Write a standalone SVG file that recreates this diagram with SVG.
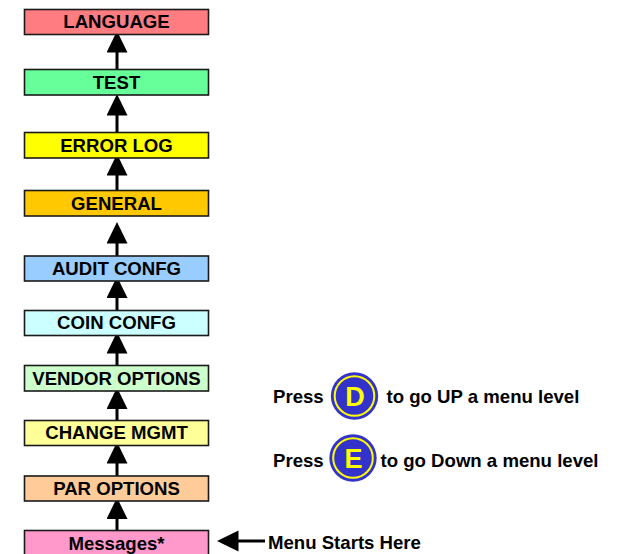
<svg xmlns="http://www.w3.org/2000/svg" width="628" height="554" viewBox="0 0 628 554">
<style>
.box{stroke:#1a1a1a;stroke-width:1.6}
.lbl{font-family:"Liberation Sans",Arial,Helvetica,sans-serif;font-weight:bold;font-size:18.6px;fill:#000;text-anchor:middle}
.txt{font-family:"Liberation Sans",Arial,Helvetica,sans-serif;font-weight:bold;font-size:18.6px;fill:#000}
.key{font-family:"Liberation Sans",Arial,Helvetica,sans-serif;font-weight:bold;font-size:27px;fill:#ffff00;text-anchor:middle}
.conn{stroke:#000;stroke-width:3;fill:none;marker-end:url(#ah)}
.btn{fill:#3333cc}
.ring{fill:none;stroke:#ffff00;stroke-width:2}
</style>
<defs>
<marker id="ah" markerUnits="userSpaceOnUse" markerWidth="22" markerHeight="22" refX="0.5" refY="10.5" orient="auto">
<path d="M0,0 L21.5,10.5 L0,21 Z" fill="#000"/>
</marker>
</defs>
<rect width="628" height="554" fill="#fff"/>
<g id="connectors">
<line class="conn" x1="117" y1="69.5" x2="117" y2="52"/>
<line class="conn" x1="117" y1="132.5" x2="117" y2="115"/>
<line class="conn" x1="117" y1="190.5" x2="117" y2="175"/>
<line class="conn" x1="117" y1="256" x2="117" y2="243"/>
<line class="conn" x1="117" y1="310.5" x2="117" y2="297.5"/>
<line class="conn" x1="117" y1="365.5" x2="117" y2="353"/>
<line class="conn" x1="117" y1="420.5" x2="117" y2="408.5"/>
<line class="conn" x1="117" y1="476" x2="117" y2="463"/>
<line class="conn" x1="117" y1="530.5" x2="117" y2="518.5"/>
<line id="start-arrow" class="conn" x1="265" y1="541" x2="238" y2="541"/>
</g>
<g id="language"><rect class="box" x="24.5" y="9.5" width="184" height="25" fill="#ff7c80"/><text class="lbl" x="116.5" y="28">LANGUAGE</text></g>
<g id="test"><rect class="box" x="24.5" y="69.5" width="184" height="25.5" fill="#66ff99"/><text class="lbl" x="116.5" y="88.5">TEST</text></g>
<g id="error-log"><rect class="box" x="24.5" y="132.5" width="184" height="25.5" fill="#ffff00"/><text class="lbl" x="116.5" y="151.5">ERROR LOG</text></g>
<g id="general"><rect class="box" x="24.5" y="190.5" width="184" height="25.5" fill="#ffc800"/><text class="lbl" x="116.5" y="209.5">GENERAL</text></g>
<g id="audit-confg"><rect class="box" x="24.5" y="256" width="184" height="25" fill="#99ccff"/><text class="lbl" x="116.5" y="274.5">AUDIT CONFG</text></g>
<g id="coin-confg"><rect class="box" x="24.5" y="310.5" width="184" height="25" fill="#ccffff"/><text class="lbl" x="116.5" y="329">COIN CONFG</text></g>
<g id="vendor-options"><rect class="box" x="24.5" y="365.5" width="184" height="25.5" fill="#ccffcc"/><text class="lbl" x="116.5" y="384.5">VENDOR OPTIONS</text></g>
<g id="change-mgmt"><rect class="box" x="24.5" y="420.5" width="184" height="25" fill="#ffff99"/><text class="lbl" x="116.5" y="439">CHANGE MGMT</text></g>
<g id="par-options"><rect class="box" x="24.5" y="476" width="184" height="25" fill="#ffcc99"/><text class="lbl" x="116.5" y="494.5">PAR OPTIONS</text></g>
<g id="messages"><rect class="box" x="24.5" y="530.5" width="184" height="26" fill="#ff99cc"/><text class="lbl" x="116.5" y="549.5">Messages*</text></g>
<g id="menu-starts"><text class="txt" x="268" y="548.5">Menu Starts Here</text></g>
<g id="legend-up">
<text class="txt" x="273" y="402.5">Press</text>
<circle class="btn" cx="354.5" cy="396" r="23.7"/>
<circle class="ring" cx="354.5" cy="396" r="19.8"/>
<text class="key" x="355" y="406">D</text>
<text class="txt" x="386.5" y="402.5">to go UP a menu level</text>
</g>
<g id="legend-down">
<text class="txt" x="273" y="466.5">Press</text>
<circle class="btn" cx="353" cy="458" r="23.7"/>
<circle class="ring" cx="353" cy="458" r="19.8"/>
<text class="key" x="353.5" y="468">E</text>
<text class="txt" x="380.5" y="466.5">to go Down a menu level</text>
</g>
</svg>
